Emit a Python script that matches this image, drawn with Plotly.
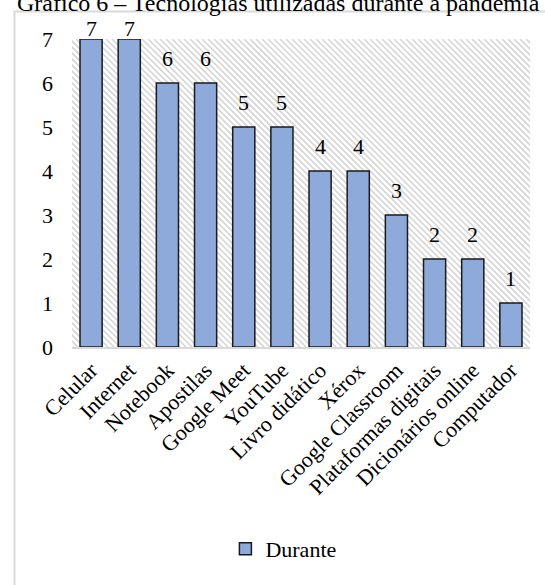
import base64
import plotly.graph_objects as go

categories = ["Celular", "Internet", "Notebook", "Apostilas", "Google Meet", "YouTube",
              "Livro didático", "Xérox", "Google Classroom", "Plataformas digitais",
              "Dicionários online", "Computador"]
values = [7, 7, 6, 6, 5, 5, 4, 4, 3, 2, 2, 1]
series_name = "Durante"
title_text = "Gráfico 6 – Tecnologias utilizadas durante a pandemia"

W, H = 545, 585
L, R, T, B = 72, 15, 39, 238
pw, ph = W - L - R, H - T - B
FS = 22

# hatch background (decoration)
lines = []
step = 6
for k in range(-ph, pw + ph, step):
    lines.append(f'<line x1="{k}" y1="0" x2="{k+ph}" y2="{ph}" />')
svg = (f'<svg xmlns="http://www.w3.org/2000/svg" width="{pw}" height="{ph}" viewBox="0 0 {pw} {ph}">'
       f'<g stroke="#d6d6d6" stroke-width="1.6">' + "".join(lines) + '</g></svg>')
src = "data:image/svg+xml;base64," + base64.b64encode(svg.encode()).decode()

font = "Liberation Serif, Times New Roman, serif"

fig = go.Figure(go.Bar(
    x=categories, y=values, name=series_name,
    marker=dict(color="#8eaadb", line=dict(color="#1a1a1a", width=1.5)),
    width=0.58,
))

vmax = max(values)
label_annotations = [
    dict(x=c, y=v, xref="x", yref="y", text=str(v), showarrow=False,
         xanchor="center", yanchor="bottom", yshift=(-4 if v == vmax else 10),
         font=dict(family=font, size=FS, color="black"))
    for c, v in zip(categories, values)
]

fig.update_layout(
    width=W, height=H,
    margin=dict(l=L, r=R, t=T, b=B),
    paper_bgcolor="white", plot_bgcolor="rgba(0,0,0,0)",
    font=dict(family=font, size=FS, color="black"),
    showlegend=True,
    legend=dict(orientation="h", x=0.52, xanchor="center", xref="container",
                y=1 - 549 / H, yanchor="middle", yref="container",
                font=dict(family=font, size=FS, color="black")),
    images=[dict(source=src, xref="paper", yref="paper", x=0, y=1, sizex=1, sizey=1,
                 xanchor="left", yanchor="top", sizing="stretch", layer="below")],
    shapes=[dict(type="rect", xref="paper", yref="paper",
                 x0=(14.5 - L) / pw, x1=2, y0=1 + (T - 11.5) / ph, y1=-2,
                 line=dict(color="#d9d9d9", width=2), fillcolor="rgba(0,0,0,0)", layer="below")],
    annotations=[dict(text=title_text, xref="paper", yref="paper",
                      x=(15 - L) / pw, y=1 + (T - 18) / ph, xanchor="left", yanchor="bottom",
                      showarrow=False, font=dict(family=font, size=24, color="black"))]
                + label_annotations,
)
fig.update_xaxes(tickangle=-45, showline=True, linecolor="#d9d9d9", linewidth=1.5,
                 ticks="", showgrid=False, tickfont=dict(family=font, size=FS))
fig.update_yaxes(range=[0, 7], dtick=1, showgrid=False, zeroline=False, showline=False,
                 ticks="", ticklabelstandoff=18, tickfont=dict(family=font, size=FS))

fig.write_html("out.html")
